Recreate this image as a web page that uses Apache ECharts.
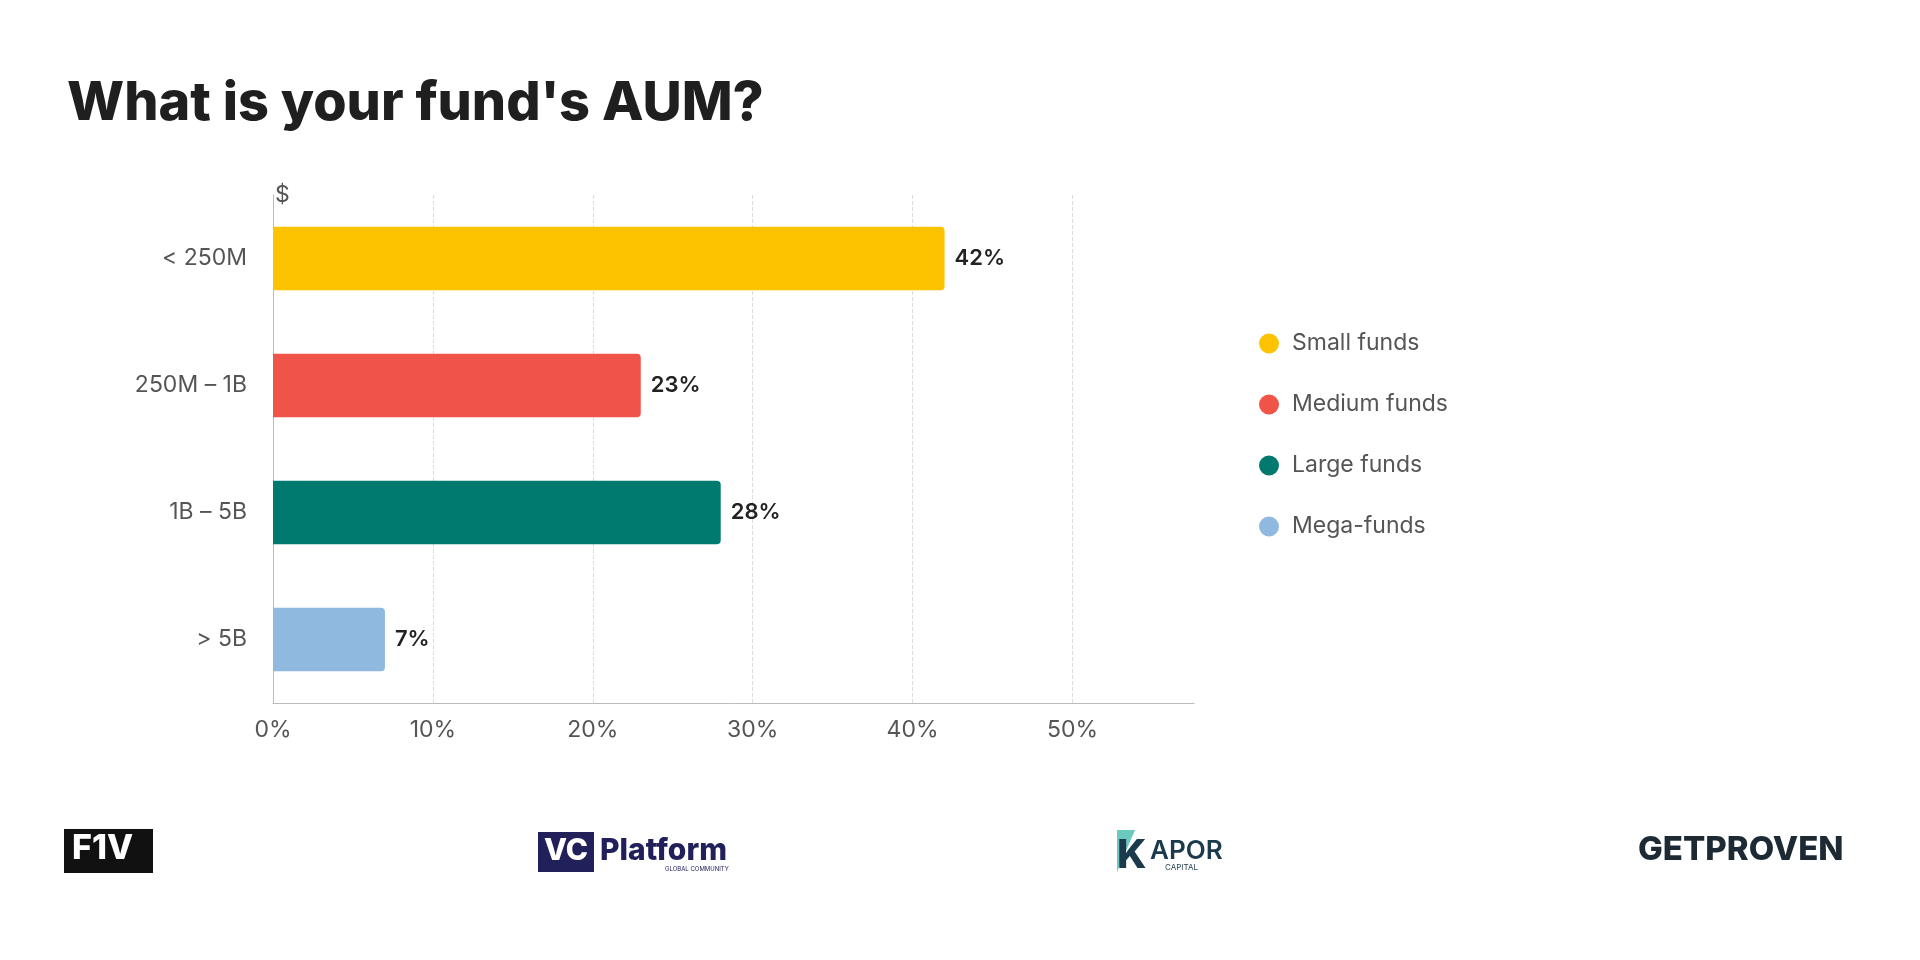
<!DOCTYPE html>
<html><head><meta charset="utf-8">
<script src="https://cdn.jsdelivr.net/npm/echarts@6/dist/echarts.min.js"></script>
<style>html,body{margin:0;background:#fff}#c{width:1920px;height:960px}</style>
</head><body><div id="c"></div>
<script>
var categories = ['< 250M', '250M – 1B', '1B – 5B', '> 5B'];
var seriesNames = ['Small funds', 'Medium funds', 'Large funds', 'Mega-funds'];
var values = [42, 23, 28, 7];
var colors = ['#FDC300', '#F05347', '#007A6E', '#8FB9DE'];
var xTicks = [0, 10, 20, 30, 40, 50];

var chart = echarts.init(document.getElementById('c'));
var font = 'Inter, "Noto Sans", sans-serif';
var series = seriesNames.map(function (name, i) {
	var d = categories.map(function (c, j) { return j === i ? values[i] : '-'; });
	return {
		name: name, type: 'bar', stack: 'all', data: d, barWidth: '50%',
		itemStyle: { color: colors[i], borderRadius: [0, 4, 4, 0] },
		label: { show: true, position: 'right', formatter: '{c}%', color: '#222', fontSize: 22, fontWeight: 600, fontFamily: font, distance: 10 }
	};
});
function logoText(x, y, text, size, color, weight) {
	return { type: 'text', left: x, top: y, style: { text: text, fontSize: size, fontWeight: weight || 800, fill: color, fontFamily: font } };
}
chart.setOption({
	animation: false,
	textStyle: { fontFamily: font },
	title: { text: "What is your fund's AUM?", left: 62, top: 72, textStyle: { fontSize: 54, fontWeight: 800, color: '#1f1f1f', fontFamily: font } },
	legend: {
		orient: 'vertical', left: 1254, top: 327, itemGap: 38, icon: 'circle', itemWidth: 20, itemHeight: 20,
		textStyle: { fontSize: 23, color: '#555', fontFamily: font, padding: [0, 0, 0, 8] }, data: seriesNames
	},
	grid: { left: 273, right: 726, top: 195, bottom: 257 },
	xAxis: {
		type: 'value', min: 0, max: 57.6, interval: 10,
		axisLine: { show: true, lineStyle: { color: '#bbb' } },
		axisTick: { show: false },
		axisLabel: { color: '#555', fontSize: 23, margin: 16, formatter: function (v) { return xTicks.indexOf(v) >= 0 ? v + '%' : ''; } },
		splitLine: { show: true, showMaxLine: false, lineStyle: { type: 'dashed', color: '#ddd' } }
	},
	yAxis: {
		type: 'category', data: categories, inverse: true, name: '$',
		nameLocation: 'start', nameGap: -12, nameTextStyle: { color: '#555', fontSize: 23, align: 'left', padding: [0, 0, 0, 2] },
		axisLine: { show: true, lineStyle: { color: '#bbb' } }, axisTick: { show: false },
		axisLabel: { color: '#555', fontSize: 23, margin: 26 }
	},
	series: series,
	graphic: [
		{ type: 'rect', shape: { x: 64, y: 829, width: 89, height: 44 }, style: { fill: '#111' } },
		logoText(72, 832, 'F1V', 34, '#fff'),
		{ type: 'rect', shape: { x: 538, y: 832, width: 56, height: 40 }, style: { fill: '#22205a' } },
		logoText(544, 836, 'VC', 30, '#fff'),
		logoText(600, 836, 'Platform', 30, '#22205a'),
		logoText(665, 866, 'GLOBAL COMMUNITY', 6, '#22205a', 400),
		{ type: 'polygon', shape: { points: [[1117, 830], [1135, 830], [1117, 872]] }, style: { fill: '#6cc9c0' } },
		logoText(1117, 836, 'K', 40, '#1b3a4b'),
		logoText(1150, 838, 'APOR', 26, '#1b3a4b', 600),
		logoText(1165, 864, 'CAPITAL', 8, '#1b3a4b', 400),
		logoText(1638, 834, 'GETPROVEN', 33, '#1d2a33')
	]
});
</script></body></html>
